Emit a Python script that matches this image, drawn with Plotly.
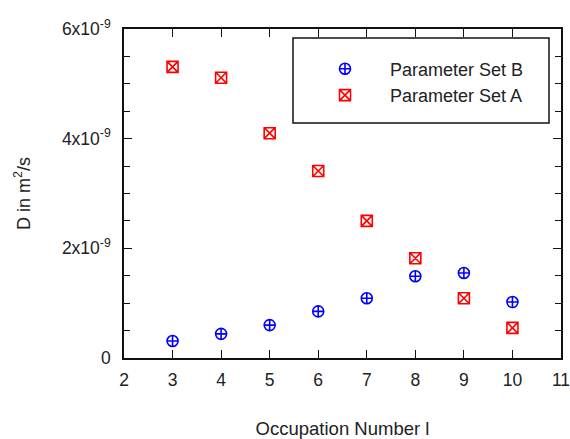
import plotly.graph_objects as go

# Occupation numbers and diffusion coefficients (m^2/s)
occupation = [3, 4, 5, 6, 7, 8, 9, 10]
d_set_b = [0.31e-9, 0.44e-9, 0.60e-9, 0.85e-9, 1.09e-9, 1.49e-9, 1.55e-9, 1.02e-9]
d_set_a = [5.31e-9, 5.11e-9, 4.10e-9, 3.41e-9, 2.50e-9, 1.82e-9, 1.09e-9, 0.55e-9]

y_tickvals = [0, 2e-9, 4e-9, 6e-9]
y_ticktext = ["0", "2x10<sup>-9</sup>", "4x10<sup>-9</sup>", "6x10<sup>-9</sup>"]
x_tickvals = [2, 3, 4, 5, 6, 7, 8, 9, 10, 11]

FONT = "Liberation Sans, Arial, sans-serif"
INK = "#222222"

fig = go.Figure()
fig.add_trace(go.Scatter(
    x=occupation, y=d_set_b, mode="markers", name="Parameter Set B",
    marker=dict(symbol="circle-cross-open", size=11, color="#0000ff",
                line=dict(width=1.6, color="#0000ff")),
))
fig.add_trace(go.Scatter(
    x=occupation, y=d_set_a, mode="markers", name="Parameter Set A",
    marker=dict(symbol="square-x-open", size=11, color="#ff0000",
                line=dict(width=1.6, color="#ff0000")),
))

axis_common = dict(
    showline=True, linecolor="#111111", linewidth=1.5,
    mirror="allticks", ticks="inside", tickcolor="#111111",
    tickwidth=1.2, ticklen=8, showgrid=False, zeroline=False,
    automargin=False, ticklabeloverflow="allow",
    tickfont=dict(family=FONT, size=17.5, color=INK),
)

fig.update_xaxes(
    range=[2, 11], tickmode="array", tickvals=x_tickvals,
    ticklabelstandoff=5,
    title=dict(text="Occupation Number l", font=dict(family=FONT, size=18.5, color=INK),
               standoff=37),
    **axis_common,
)
fig.update_yaxes(
    range=[0, 6e-9], tickmode="array", tickvals=y_tickvals, ticktext=y_ticktext,
    ticklabelstandoff=8,
    minor=dict(tickmode="linear", tick0=0, dtick=0.5e-9, ticks="inside",
               ticklen=6, tickcolor="#111111", tickwidth=1.2),
    title=dict(text="D in m<sup>2</sup>/s", font=dict(family=FONT, size=18, color=INK),
               standoff=27),
    **axis_common,
)

# Legend frame
fig.add_shape(type="rect", xref="paper", yref="paper",
              x0=(293 - 124) / 437, x1=(549 - 124) / 437,
              y0=(358 - 123) / 329, y1=(358 - 38) / 329,
              line=dict(color="#111111", width=1.5), fillcolor="white", layer="below")

fig.update_layout(
    width=570, height=439,
    margin=dict(l=124, r=9, t=29, b=81),
    paper_bgcolor="white", plot_bgcolor="white",
    showlegend=True,
    legend=dict(
        x=(300 - 124) / 437, y=(358 - 50.5) / 329, xanchor="left", yanchor="top",
        bgcolor="rgba(0,0,0,0)", borderwidth=0, itemwidth=80,
        font=dict(family=FONT, size=18, color=INK),
    ),
)

fig.write_html("out.html")
